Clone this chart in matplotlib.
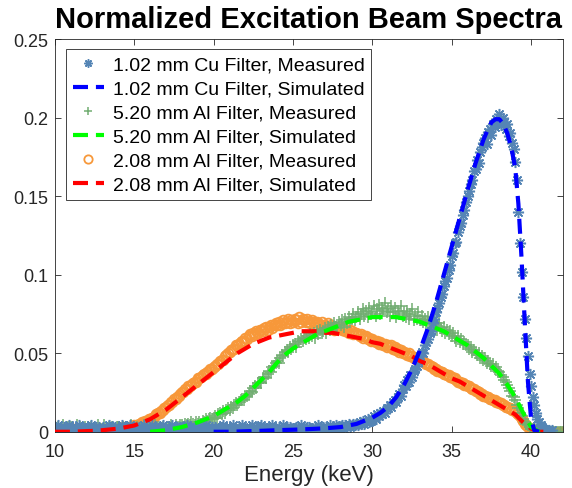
import numpy as np
import matplotlib
matplotlib.use("Agg")
import matplotlib.pyplot as plt

plt.rcParams['font.family'] = ['Liberation Sans', 'DejaVu Sans']

# measured spectra, 0.1 keV steps from 10 to 42 keV
energy_meas = np.round(np.arange(10, 42.001, 0.1), 1)

cu_meas = [
    0.003, 0.002, 0.004, 0.001, 0.003, 0.002, 0.003, 0.001, 0.002, 0.004,  # 10
    0.002, 0.003, 0.001, 0.003, 0.002, 0.004, 0.002, 0.001, 0.003, 0.002,  # 11
    0.001, 0.003, 0.002, 0.004, 0.002, 0.001, 0.003, 0.002, 0.003, 0.001,  # 12
    0.003, 0.001, 0.002, 0.002, 0.004, 0.003, 0.001, 0.002, 0.003, 0.002,  # 13
    0.002, 0.002, 0.004, 0.001, 0.002, 0.003, 0.002, 0.004, 0.001, 0.003,  # 14
    0.003, 0.001, 0.002, 0.003, 0.001, 0.002, 0.004, 0.002, 0.002, 0.001,  # 15
    0.002, 0.004, 0.001, 0.002, 0.003, 0.002, 0.001, 0.003, 0.004, 0.002,  # 16
    0.001, 0.002, 0.003, 0.002, 0.004, 0.001, 0.002, 0.003, 0.001, 0.003,  # 17
    0.003, 0.002, 0.001, 0.004, 0.002, 0.003, 0.002, 0.001, 0.003, 0.002,  # 18
    0.002, 0.001, 0.003, 0.002, 0.003, 0.004, 0.001, 0.002, 0.002, 0.003,  # 19
    0.001, 0.003, 0.002, 0.002, 0.001, 0.003, 0.004, 0.002, 0.003, 0.001,  # 20
    0.003, 0.002, 0.004, 0.001, 0.002, 0.002, 0.003, 0.001, 0.004, 0.002,  # 21
    0.002, 0.001, 0.002, 0.003, 0.004, 0.002, 0.001, 0.003, 0.002, 0.003,  # 22
    0.004, 0.002, 0.003, 0.001, 0.002, 0.003, 0.002, 0.004, 0.001, 0.002,  # 23
    0.002, 0.003, 0.001, 0.002, 0.004, 0.001, 0.003, 0.002, 0.003, 0.002,  # 24
    0.001, 0.002, 0.003, 0.003, 0.002, 0.004, 0.002, 0.001, 0.002, 0.003,  # 25
    0.003, 0.002, 0.002, 0.001, 0.003, 0.002, 0.004, 0.003, 0.002, 0.003,  # 26
    0.002, 0.003, 0.001, 0.004, 0.002, 0.003, 0.002, 0.004, 0.003, 0.002,  # 27
    0.003, 0.004, 0.002, 0.004, 0.003, 0.005, 0.003, 0.004, 0.005, 0.004,  # 28
    0.005, 0.004, 0.006, 0.005, 0.007, 0.005, 0.006, 0.008, 0.006, 0.007,  # 29
    0.008, 0.010, 0.008, 0.011, 0.010, 0.012, 0.011, 0.013, 0.012, 0.015,  # 30
    0.015, 0.017, 0.016, 0.019, 0.020, 0.019, 0.022, 0.024, 0.023, 0.027,  # 31
    0.030, 0.029, 0.033, 0.032, 0.036, 0.035, 0.039, 0.040, 0.042, 0.045,  # 32
    0.048, 0.051, 0.050, 0.055, 0.057, 0.059, 0.063, 0.064, 0.069, 0.072,  # 33
    0.076, 0.079, 0.082, 0.086, 0.088, 0.093, 0.096, 0.098, 0.103, 0.106,  # 34
    0.112, 0.114, 0.120, 0.121, 0.127, 0.131, 0.133, 0.138, 0.141, 0.146,  # 35
    0.150, 0.153, 0.158, 0.160, 0.166, 0.167, 0.173, 0.171, 0.178, 0.181,  # 36
    0.184, 0.187, 0.183, 0.191, 0.193, 0.189, 0.196, 0.194, 0.199, 0.197,  # 37
    0.202, 0.195, 0.200, 0.197, 0.193, 0.196, 0.188, 0.190, 0.184, 0.180,  # 38
    0.172, 0.160, 0.140, 0.120, 0.102, 0.086, 0.072, 0.060, 0.048, 0.037,  # 39
    0.029, 0.022, 0.017, 0.012, 0.008, 0.006, 0.004, 0.003, 0.002, 0.001,  # 40
    0.001, 0.001, 0.000, 0.001, np.nan, np.nan, np.nan, np.nan, np.nan, np.nan,  # 41
    np.nan,
]

al520_meas = [
    0.002, 0.001, 0.003, 0.002, 0.002, 0.004, 0.001, 0.002, 0.003, 0.002,  # 10
    0.003, 0.002, 0.001, 0.002, 0.004, 0.002, 0.003, 0.001, 0.002, 0.003,  # 11
    0.001, 0.003, 0.002, 0.003, 0.002, 0.001, 0.002, 0.004, 0.002, 0.002,  # 12
    0.002, 0.004, 0.002, 0.001, 0.003, 0.002, 0.003, 0.002, 0.001, 0.003,  # 13
    0.003, 0.002, 0.002, 0.003, 0.001, 0.003, 0.002, 0.002, 0.004, 0.001,  # 14
    0.002, 0.001, 0.003, 0.002, 0.003, 0.002, 0.004, 0.001, 0.002, 0.003,  # 15
    0.001, 0.003, 0.002, 0.004, 0.002, 0.003, 0.001, 0.002, 0.003, 0.002,  # 16
    0.002, 0.003, 0.002, 0.004, 0.003, 0.002, 0.004, 0.003, 0.003, 0.004,  # 17
    0.004, 0.003, 0.005, 0.004, 0.005, 0.004, 0.006, 0.005, 0.004, 0.006,  # 18
    0.005, 0.006, 0.005, 0.007, 0.006, 0.008, 0.007, 0.008, 0.009, 0.008,  # 19
    0.009, 0.010, 0.009, 0.011, 0.012, 0.011, 0.013, 0.012, 0.014, 0.015,  # 20
    0.014, 0.016, 0.015, 0.017, 0.018, 0.017, 0.019, 0.020, 0.021, 0.020,  # 21
    0.022, 0.023, 0.024, 0.026, 0.025, 0.028, 0.029, 0.028, 0.031, 0.032,  # 22
    0.031, 0.034, 0.035, 0.034, 0.037, 0.039, 0.038, 0.041, 0.042, 0.044,  # 23
    0.045, 0.044, 0.047, 0.049, 0.048, 0.051, 0.052, 0.051, 0.054, 0.053,  # 24
    0.055, 0.056, 0.054, 0.058, 0.057, 0.059, 0.058, 0.060, 0.059, 0.061,  # 25
    0.060, 0.062, 0.061, 0.063, 0.060, 0.064, 0.062, 0.065, 0.063, 0.064,  # 26
    0.066, 0.063, 0.067, 0.065, 0.068, 0.066, 0.069, 0.067, 0.066, 0.070,  # 27
    0.068, 0.071, 0.067, 0.072, 0.069, 0.073, 0.070, 0.072, 0.075, 0.071,  # 28
    0.073, 0.076, 0.072, 0.075, 0.078, 0.074, 0.077, 0.073, 0.079, 0.075,  # 29
    0.076, 0.080, 0.074, 0.078, 0.081, 0.075, 0.079, 0.077, 0.082, 0.076,  # 30
    0.078, 0.074, 0.080, 0.076, 0.079, 0.073, 0.077, 0.075, 0.080, 0.074,  # 31
    0.076, 0.073, 0.077, 0.072, 0.075, 0.078, 0.071, 0.074, 0.072, 0.076,  # 32
    0.071, 0.074, 0.070, 0.072, 0.068, 0.073, 0.069, 0.071, 0.067, 0.070,  # 33
    0.068, 0.065, 0.069, 0.066, 0.064, 0.067, 0.063, 0.065, 0.062, 0.064,  # 34
    0.061, 0.063, 0.060, 0.058, 0.061, 0.057, 0.059, 0.056, 0.057, 0.055,  # 35
    0.055, 0.053, 0.054, 0.051, 0.052, 0.050, 0.049, 0.050, 0.047, 0.048,  # 36
    0.046, 0.047, 0.044, 0.045, 0.043, 0.042, 0.043, 0.040, 0.041, 0.039,  # 37
    0.038, 0.036, 0.035, 0.033, 0.032, 0.030, 0.028, 0.026, 0.023, 0.022,  # 38
    0.020, 0.017, 0.015, 0.012, 0.010, 0.008, 0.006, 0.005, 0.004, 0.003,  # 39
    0.002, 0.002, 0.001, 0.001, 0.001, 0.000, 0.000, 0.000, 0.000, 0.000,  # 40
    0.000, 0.000, 0.000, 0.000, 0.000, 0.000, 0.000, 0.000, 0.000, 0.000,  # 41
    0.000,
]

al208_meas = [
    0.001, 0.000, 0.001, 0.002, 0.001, 0.000, 0.001, 0.001, 0.002, 0.001,  # 10
    0.000, 0.001, 0.002, 0.001, 0.001, 0.000, 0.002, 0.001, 0.000, 0.001,  # 11
    0.001, 0.002, 0.000, 0.001, 0.001, 0.002, 0.001, 0.000, 0.001, 0.002,  # 12
    0.001, 0.001, 0.002, 0.000, 0.002, 0.001, 0.001, 0.002, 0.001, 0.002,  # 13
    0.002, 0.001, 0.002, 0.003, 0.002, 0.002, 0.003, 0.002, 0.003, 0.003,  # 14
    0.004, 0.003, 0.004, 0.005, 0.005, 0.006, 0.006, 0.007, 0.007, 0.008,  # 15
    0.008, 0.009, 0.009, 0.010, 0.011, 0.012, 0.012, 0.013, 0.014, 0.015,  # 16
    0.016, 0.017, 0.017, 0.019, 0.019, 0.021, 0.021, 0.022, 0.023, 0.024,  # 17
    0.025, 0.025, 0.027, 0.027, 0.029, 0.029, 0.030, 0.031, 0.032, 0.032,  # 18
    0.034, 0.034, 0.035, 0.036, 0.037, 0.037, 0.038, 0.039, 0.040, 0.040,  # 19
    0.041, 0.042, 0.043, 0.043, 0.045, 0.046, 0.046, 0.048, 0.049, 0.050,  # 20
    0.051, 0.052, 0.053, 0.053, 0.055, 0.055, 0.056, 0.057, 0.058, 0.058,  # 21
    0.060, 0.059, 0.061, 0.062, 0.061, 0.063, 0.062, 0.064, 0.063, 0.065,  # 22
    0.065, 0.064, 0.066, 0.067, 0.065, 0.067, 0.068, 0.066, 0.068, 0.069,  # 23
    0.068, 0.070, 0.068, 0.069, 0.071, 0.069, 0.070, 0.072, 0.069, 0.071,  # 24
    0.070, 0.072, 0.071, 0.069, 0.073, 0.070, 0.072, 0.071, 0.070, 0.072,  # 25
    0.070, 0.069, 0.071, 0.070, 0.068, 0.070, 0.069, 0.068, 0.070, 0.068,  # 26
    0.068, 0.067, 0.069, 0.066, 0.068, 0.067, 0.065, 0.067, 0.066, 0.066,  # 27
    0.066, 0.065, 0.066, 0.064, 0.065, 0.063, 0.065, 0.064, 0.062, 0.063,  # 28
    0.063, 0.062, 0.061, 0.062, 0.060, 0.061, 0.061, 0.059, 0.060, 0.058,  # 29
    0.059, 0.058, 0.057, 0.058, 0.056, 0.057, 0.056, 0.055, 0.056, 0.054,  # 30
    0.055, 0.054, 0.055, 0.053, 0.054, 0.052, 0.053, 0.051, 0.052, 0.050,  # 31
    0.051, 0.050, 0.049, 0.050, 0.048, 0.048, 0.047, 0.047, 0.046, 0.046,  # 32
    0.046, 0.045, 0.045, 0.044, 0.043, 0.043, 0.042, 0.042, 0.041, 0.040,  # 33
    0.040, 0.039, 0.039, 0.038, 0.038, 0.037, 0.037, 0.036, 0.036, 0.035,  # 34
    0.035, 0.034, 0.034, 0.033, 0.032, 0.032, 0.031, 0.031, 0.030, 0.030,  # 35
    0.029, 0.029, 0.028, 0.027, 0.027, 0.026, 0.026, 0.025, 0.024, 0.024,  # 36
    0.023, 0.023, 0.022, 0.022, 0.021, 0.021, 0.020, 0.020, 0.019, 0.019,  # 37
    0.018, 0.018, 0.017, 0.017, 0.016, 0.016, 0.015, 0.015, 0.014, 0.014,  # 38
    0.013, 0.012, 0.011, 0.010, 0.008, 0.007, 0.005, 0.004, 0.003, 0.002,  # 39
    0.002, 0.001, 0.001, 0.001, 0.000, 0.000, 0.000, 0.000, 0.000, 0.000,  # 40
    0.000, 0.000, 0.000, 0.000, 0.000, 0.000, 0.000, 0.000, 0.000, 0.000,  # 41
    0.000,
]

# simulated spectra
cu_sim_energy = [20, 21, 22, 23, 24, 25, 26, 27, 28, 28.5, 29, 29.5, 30, 30.5,
                 31, 31.5, 32, 32.5, 33, 33.5, 34, 34.5, 35, 35.5, 36, 36.5,
                 37, 37.25, 37.5, 37.75, 38, 38.25, 38.5, 38.75, 39, 39.2,
                 39.4, 39.6, 39.8, 40, 40.2, 40.5]
cu_sim = [0.0, 0.0, 0.0003, 0.0006, 0.001, 0.0013, 0.0017, 0.0022, 0.003, 0.004,
          0.005, 0.007, 0.009, 0.012, 0.016, 0.022, 0.030, 0.040, 0.052, 0.066,
          0.082, 0.100, 0.118, 0.136, 0.154, 0.171, 0.186, 0.192, 0.197, 0.199,
          0.199, 0.196, 0.190, 0.181, 0.168, 0.145, 0.110, 0.070, 0.032, 0.008,
          0.001, 0.0]

al520_sim_energy = np.arange(16, 41.001, 0.5)
al520_sim = [
    0.0, 0.0005,      # 16
    0.001, 0.002,     # 17
    0.003, 0.0045,    # 18
    0.006, 0.008,     # 19
    0.010, 0.013,     # 20
    0.016, 0.019,     # 21
    0.023, 0.028,     # 22
    0.033, 0.038,     # 23
    0.044, 0.049,     # 24
    0.053, 0.056,     # 25
    0.059, 0.062,     # 26
    0.064, 0.066,     # 27
    0.068, 0.070,     # 28
    0.071, 0.072,     # 29
    0.073, 0.073,     # 30
    0.073, 0.073,     # 31
    0.072, 0.071,     # 32
    0.070, 0.068,     # 33
    0.066, 0.064,     # 34
    0.061, 0.058,     # 35
    0.055, 0.051,     # 36
    0.047, 0.042,     # 37
    0.037, 0.030,     # 38
    0.022, 0.012,     # 39
    0.003, 0.0,       # 40
    0.0,              # 41
]

al208_sim_energy = np.arange(10, 41.001, 0.5)
al208_sim = [
    0.000, 0.000,     # 10
    0.000, 0.0002,    # 11
    0.0004, 0.0006,   # 12
    0.001, 0.0015,    # 13
    0.002, 0.003,     # 14
    0.004, 0.006,     # 15
    0.008, 0.011,     # 16
    0.014, 0.018,     # 17
    0.022, 0.026,     # 18
    0.030, 0.034,     # 19
    0.038, 0.042,     # 20
    0.046, 0.050,     # 21
    0.053, 0.056,     # 22
    0.058, 0.060,     # 23
    0.061, 0.062,     # 24
    0.063, 0.064,     # 25
    0.064, 0.064,     # 26
    0.063, 0.063,     # 27
    0.062, 0.061,     # 28
    0.060, 0.059,     # 29
    0.057, 0.056,     # 30
    0.054, 0.052,     # 31
    0.050, 0.048,     # 32
    0.045, 0.043,     # 33
    0.040, 0.037,     # 34
    0.034, 0.032,     # 35
    0.029, 0.026,     # 36
    0.023, 0.020,     # 37
    0.017, 0.014,     # 38
    0.011, 0.006,     # 39
    0.002, 0.000,     # 40
    0.000,            # 41
]

labels = ['1.02 mm Cu Filter, Measured', '1.02 mm Cu Filter, Simulated',
          '5.20 mm Al Filter, Measured', '5.20 mm Al Filter, Simulated',
          '2.08 mm Al Filter, Measured', '2.08 mm Al Filter, Simulated']

fig = plt.figure(figsize=(5.72, 4.89), dpi=100)
ax = fig.add_axes([0.096, 0.115, 0.888, 0.803])

dash = (0, (3.6, 1.9))
h1, = ax.plot(energy_meas, cu_meas, ls='none', marker=(8, 2, 0), color='#5585b5',
              ms=8, mew=1.1, zorder=2.2)
h2, = ax.plot(cu_sim_energy, cu_sim, color='#0000ff', lw=3, ls=dash, zorder=3.2)
h3, = ax.plot(energy_meas, al520_meas, '+', color='#72ad72', ms=9, mew=1.1, zorder=2.1)
h4, = ax.plot(al520_sim_energy, al520_sim, color='#00ff00', lw=3, ls=dash, zorder=3.1)
h5, = ax.plot(energy_meas, al208_meas, 'o', color='#f7983a', mfc='none', ms=7, mew=1.3, zorder=2)
h6, = ax.plot(al208_sim_energy, al208_sim, color='#ff0000', lw=3, ls=dash, zorder=3)

ax.set_xlim(10, 42)
ax.set_ylim(0, 0.25)
ax.set_xticks([10, 15, 20, 25, 30, 35, 40])
ax.set_yticks([0, 0.05, 0.1, 0.15, 0.2, 0.25])
ax.set_yticklabels(['0', '0.05', '0.1', '0.15', '0.2', '0.25'])
ax.tick_params(direction='in', top=True, right=True, length=4.5, width=0.6,
               colors='#262626', labelsize=13, labelcolor='#262626')
ax.tick_params(axis='x', pad=8)
ax.tick_params(axis='y', pad=5)
for s in ax.spines.values():
    s.set_linewidth(0.6)
    s.set_color('#262626')

ax.set_xlabel('Energy (keV)', fontsize=16, color='#262626', labelpad=3)
ax.set_title('Normalized Excitation Beam Spectra', fontsize=21, fontweight='bold', pad=9)

leg = ax.legend([h1, h2, h3, h4, h5, h6], labels, loc='upper left', numpoints=1,
                fontsize=14, handlelength=1.6, handletextpad=0.45, labelspacing=0.33,
                borderpad=0.35, borderaxespad=0.0, fancybox=False, framealpha=1,
                bbox_to_anchor=(0.022, 0.975))
leg.get_frame().set_edgecolor('#262626')
leg.get_frame().set_linewidth(0.6)
for lh in leg.legend_handles[0::2]:
    lh.set_markersize(6)

fig.savefig('out.png', dpi=100)
